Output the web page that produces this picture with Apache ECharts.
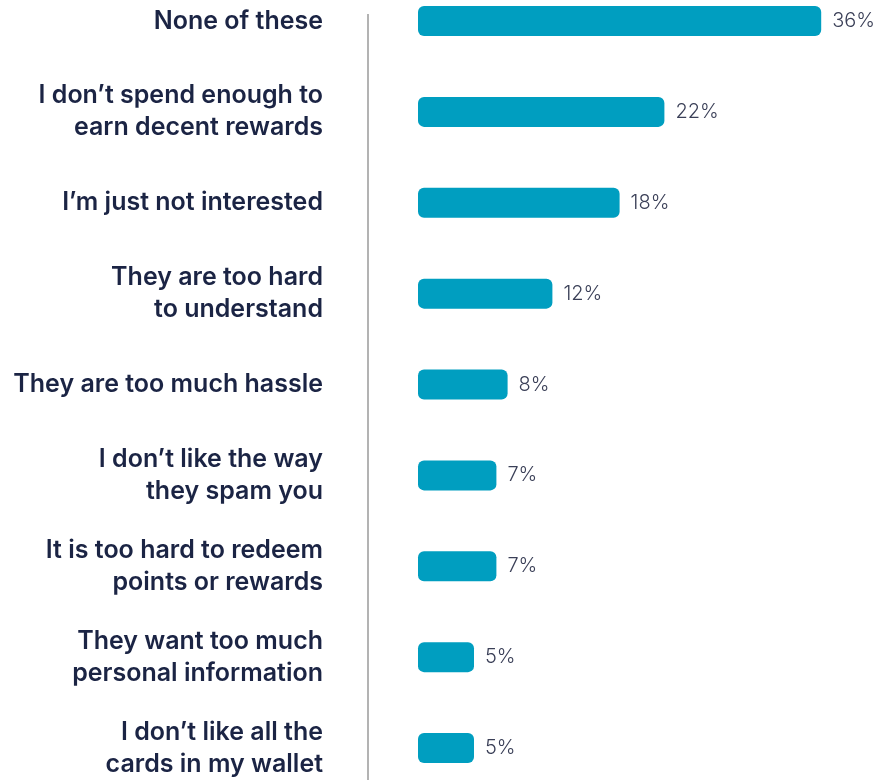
<!DOCTYPE html>
<html>
<head>
<meta charset="utf-8">
<style>
  html, body { margin: 0; padding: 0; background: #ffffff; }
  #chart { width: 876px; height: 780px; }
</style>
<script src="https://cdn.jsdelivr.net/npm/echarts@6/dist/echarts.min.js"></script>
</head>
<body>
<div id="chart"></div>
<script>
// Reasons for not using a rewards card, share of respondents (%)
const reasons = [
  "None of these",
  "I don\u2019t spend enough to\nearn decent rewards",
  "I\u2019m just not interested",
  "They are too hard\nto understand",
  "They are too much hassle",
  "I don\u2019t like the way\nthey spam you",
  "It is too hard to redeem\npoints or rewards",
  "They want too much\npersonal information",
  "I don\u2019t like all the\ncards in my wallet"
];
const shares = [36, 22, 18, 12, 8, 7, 7, 5, 5];

const chart = echarts.init(document.getElementById('chart'), null, { renderer: 'canvas' });

const GRID_LEFT = 418;
const AXIS_GAP = 50;
const FONT = 'Inter, "Liberation Sans", Arial, sans-serif';

chart.setOption({
  animation: false,
  backgroundColor: '#ffffff',
  grid: { left: GRID_LEFT, top: 21, width: 448, bottom: 27, containLabel: false },
  xAxis: {
    type: 'value',
    min: 0,
    max: 40,
    show: false
  },
  yAxis: {
    type: 'category',
    data: reasons,
    inverse: true,
    boundaryGap: false,
    offset: AXIS_GAP,
    axisLine: { show: false },
    axisTick: { show: false },
    splitLine: { show: false },
    axisLabel: {
      margin: 45,
      color: '#1b2444',
      fontFamily: FONT,
      fontWeight: 600,
      fontSize: 25,
      lineHeight: 32,
      align: 'right'
    }
  },
  series: [{
    type: 'bar',
    data: shares,
    barWidth: 30,
    itemStyle: { color: '#009ec0', borderRadius: 6 },
    label: {
      show: true,
      position: 'right',
      distance: 11,
      formatter: '{c}%',
      color: '#3a3f57',
      fontFamily: FONT,
      fontWeight: 300,
      fontSize: 20
    }
  }],
  graphic: [{
    type: 'line',
    z: 10,
    shape: { x1: GRID_LEFT - AXIS_GAP, y1: 14, x2: GRID_LEFT - AXIS_GAP, y2: 780 },
    style: { stroke: '#b3b3b3', lineWidth: 2 }
  }]
});
</script>
</body>
</html>
